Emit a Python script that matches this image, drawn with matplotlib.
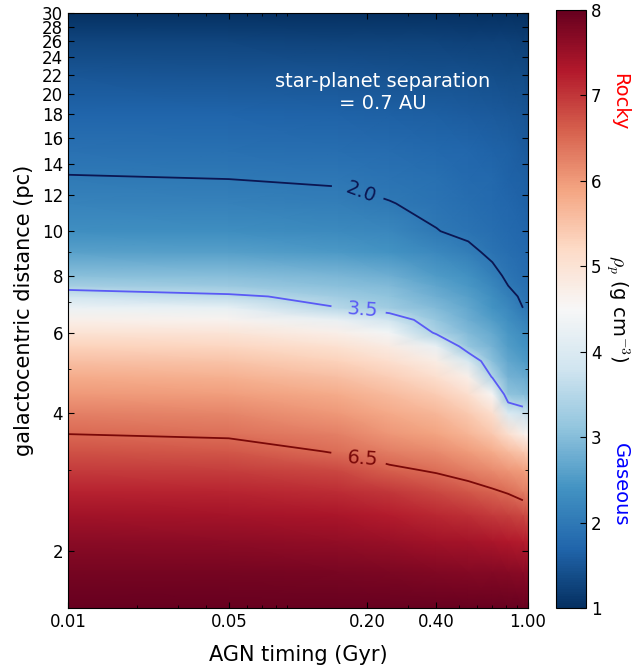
import numpy as np
import matplotlib
matplotlib.use("Agg")
import matplotlib.pyplot as plt
from matplotlib.ticker import FixedLocator, FixedFormatter, LogLocator, NullFormatter

plt.rcParams['mathtext.fontset'] = 'cm'

# AGN timing (Gyr) columns and galactocentric distance (pc) rows
agn_time = [0.01, 0.05, 0.15, 0.25, 0.4, 0.55, 0.7, 0.82, 0.95, 1.0]
distance = [1.5, 1.8, 2.1, 2.4, 2.7, 3.0, 3.3, 3.6, 4.0, 4.4, 4.8, 5.2, 5.6, 6.0,
            6.4, 6.8, 7.2, 7.6, 8.0, 9.0, 10.0, 11.5, 13.0, 15.0, 18.0, 22.0, 26.0, 30.0]

# planet density (g cm^-3), one list per AGN timing column, bottom -> top
rho_t001 = [8.0, 7.85, 7.65, 7.45, 7.2, 6.95, 6.72, 6.5, 6.25, 6.02, 5.8, 5.55, 5.3, 5.0,
            4.7, 4.3, 3.8, 3.3, 3.05, 2.6, 2.35, 2.15, 2.02, 1.88, 1.7, 1.5, 1.3, 1.02]
rho_t005 = [8.0, 7.85, 7.63, 7.42, 7.17, 6.92, 6.68, 6.44, 6.2, 5.97, 5.74, 5.5, 5.24, 4.95,
            4.62, 4.2, 3.58, 3.2, 3.0, 2.57, 2.33, 2.13, 2.0, 1.86, 1.69, 1.49, 1.29, 1.02]
rho_t015 = [8.0, 7.82, 7.58, 7.35, 7.08, 6.8, 6.45, 6.25, 6.02, 5.8, 5.55, 5.3, 5.02, 4.7,
            4.25, 3.5, 3.25, 3.05, 2.9, 2.5, 2.28, 2.08, 1.96, 1.83, 1.67, 1.47, 1.27, 1.01]
rho_t025 = [8.0, 7.8, 7.52, 7.25, 6.98, 6.58, 6.3, 6.05, 5.82, 5.6, 5.35, 5.08, 4.78, 4.4,
            3.8, 3.25, 3.1, 2.95, 2.8, 2.42, 2.22, 2.01, 1.92, 1.8, 1.65, 1.45, 1.26, 1.01]
rho_t040 = [8.0, 7.75, 7.45, 7.15, 6.8, 6.45, 6.15, 5.9, 5.65, 5.38, 5.1, 4.75, 4.25, 3.4,
            3.15, 2.95, 2.8, 2.65, 2.52, 2.25, 2.01, 1.92, 1.85, 1.75, 1.62, 1.43, 1.25, 1.01]
rho_t055 = [8.0, 7.72, 7.4, 7.05, 6.68, 6.3, 5.98, 5.7, 5.42, 5.1, 4.7, 3.95, 3.15, 2.95,
            2.8, 2.68, 2.57, 2.47, 2.38, 2.08, 1.92, 1.84, 1.79, 1.72, 1.6, 1.42, 1.24, 1.0]
rho_t070 = [8.0, 7.7, 7.35, 6.95, 6.55, 6.15, 5.8, 5.45, 5.1, 4.55, 3.45, 3.05, 2.85, 2.7,
            2.55, 2.42, 2.32, 2.22, 2.1, 1.92, 1.84, 1.78, 1.74, 1.68, 1.57, 1.4, 1.23, 1.0]
rho_t082 = [8.0, 7.68, 7.3, 6.88, 6.45, 6.05, 5.6, 5.1, 4.0, 3.1, 2.85, 2.68, 2.55, 2.45,
            2.35, 2.25, 2.12, 2.0, 1.93, 1.83, 1.77, 1.72, 1.68, 1.63, 1.54, 1.38, 1.22, 1.0]
rho_t095 = [8.0, 7.65, 7.25, 6.8, 6.3, 5.95, 5.45, 4.7, 3.75, 3.0, 2.75, 2.55, 2.4, 2.3,
            2.15, 2.0, 1.93, 1.88, 1.84, 1.77, 1.72, 1.67, 1.63, 1.58, 1.5, 1.36, 1.2, 1.0]
rho_t100 = [8.0, 7.65, 7.22, 6.75, 6.25, 5.9, 5.35, 4.6, 3.7, 2.95, 2.7, 2.5, 2.38, 2.27,
            2.12, 1.97, 1.9, 1.86, 1.82, 1.75, 1.7, 1.65, 1.61, 1.56, 1.48, 1.35, 1.2, 1.0]

contour_levels = [2.0, 3.5, 6.5]
contour_colors = ['#0b1652', '#5a5af5', '#7a0808']
xtick_vals = [0.01, 0.05, 0.2, 0.4, 1.0]
ytick_vals = list(range(2, 31, 2))

rho = np.column_stack([rho_t001, rho_t005, rho_t015, rho_t025, rho_t040,
                       rho_t055, rho_t070, rho_t082, rho_t095, rho_t100])
T, D = np.meshgrid(agn_time, distance)

fig = plt.figure(figsize=(6.34, 6.66), dpi=100)
ax = fig.add_axes([68 / 634, 58 / 666, 460 / 634, 595 / 666])
mesh = ax.pcolormesh(T, D, rho, shading='gouraud', cmap='RdBu_r', vmin=1, vmax=8)

# contour lines stop just short of the right edge, as in the original
cs = ax.contour(T[:, :-1], D[:, :-1], rho[:, :-1], levels=contour_levels,
                colors=contour_colors, linewidths=1.3)
ax.clabel(cs, fmt='%.1f', fontsize=14, inline=True, inline_spacing=8,
          manual=[(0.19, 12.3), (0.19, 6.7), (0.19, 3.15)])

ax.set_xscale('log')
ax.set_yscale('log')
ax.set_xlim(0.01, 1.0)
ax.set_ylim(1.5, 30)

ax.xaxis.set_major_locator(FixedLocator(xtick_vals))
ax.xaxis.set_major_formatter(FixedFormatter(['%.2f' % v for v in xtick_vals]))
ax.xaxis.set_minor_locator(LogLocator(base=10, subs=np.arange(2, 10)))
ax.xaxis.set_minor_formatter(NullFormatter())
ax.yaxis.set_major_locator(FixedLocator(ytick_vals))
ax.yaxis.set_major_formatter(FixedFormatter([str(v) for v in ytick_vals]))
ax.yaxis.set_minor_locator(LogLocator(base=10, subs=np.arange(2, 10)))
ax.yaxis.set_minor_formatter(NullFormatter())

ax.tick_params(which='both', direction='in', top=True, right=True, labelsize=12)
ax.tick_params(which='major', length=4)
ax.tick_params(which='minor', length=2)

ax.set_xlabel('AGN timing (Gyr)', fontsize=15, labelpad=10)
ax.set_ylabel('galactocentric distance (pc)', fontsize=15, labelpad=6)

ax.text(0.685, 0.867, 'star-planet separation\n= 0.7 AU', transform=ax.transAxes,
        color='white', fontsize=14, ha='center', va='center', multialignment='center')

cax = fig.add_axes([556 / 634, 58 / 666, 30 / 634, 598 / 666])
cbar = fig.colorbar(mesh, cax=cax, ticks=range(1, 9))
cbar.ax.tick_params(direction='in', labelsize=12, length=4)
cbar.set_label(r'$\rho_p$ (g cm$^{-3}$)', rotation=270, fontsize=14, labelpad=22)

fig.text(620 / 634, 1 - 102 / 666, 'Rocky', color='red', fontsize=14,
         rotation=270, ha='center', va='center')
fig.text(620 / 634, 1 - 485 / 666, 'Gaseous', color='blue', fontsize=14,
         rotation=270, ha='center', va='center')

fig.savefig('out.png', dpi=100)
